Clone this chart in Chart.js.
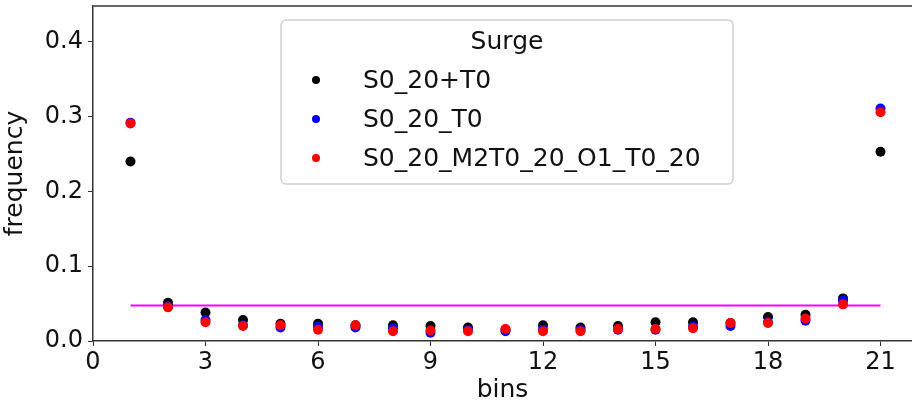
<!DOCTYPE html>
<html>
<head>
<meta charset="utf-8">
<script src="https://cdn.jsdelivr.net/npm/chart.js@4/dist/chart.umd.min.js"></script>
<style>
  html, body { margin: 0; padding: 0; background: #fff; }
  #wrap { width: 912px; height: 405px; }
</style>
</head>
<body>
<div id="wrap"><canvas id="chart" width="912" height="405"></canvas></div>
<script>
// bins 1..21
const bins = [1, 2, 3, 4, 5, 6, 7, 8, 9, 10, 11, 12, 13, 14, 15, 16, 17, 18, 19, 20, 21];

// frequencies
const plusT0 = [0.240, 0.051, 0.038, 0.028, 0.023, 0.023, 0.021, 0.021, 0.020, 0.018, 0.015,
                0.021, 0.018, 0.020, 0.025, 0.025, 0.024, 0.032, 0.035, 0.057, 0.253];
const underT0 = [0.292, 0.046, 0.028, 0.021, 0.018, 0.019, 0.018, 0.017, 0.011, 0.015, 0.013,
                 0.015, 0.015, 0.015, 0.015, 0.019, 0.020, 0.025, 0.027, 0.054, 0.311];
const m2o1 = [0.291, 0.045, 0.025, 0.020, 0.021, 0.015, 0.021, 0.013, 0.014, 0.013, 0.016,
              0.013, 0.013, 0.016, 0.016, 0.017, 0.024, 0.024, 0.030, 0.049, 0.306];

// uniform reference line 1/21
const uniformX = [1, 21];
const uniformY = [1 / 21, 1 / 21];

const seriesNames = ['S0_20+T0', 'S0_20_T0', 'S0_20_M2T0_20_O1_T0_20'];
const seriesColors = ['#000000', '#0000ff', '#ff0000'];
const legendTitle = 'Surge';

const font = 'DejaVu Sans';

function pts(xs, ys) {
    return xs.map((x, i) => ({ x: x, y: ys[i] }));
}

function scatterSet(i, ys, order) {
    return {
        type: 'scatter',
        label: seriesNames[i],
        data: pts(bins, ys),
        backgroundColor: seriesColors[i],
        borderColor: seriesColors[i],
        pointRadius: 5,
        pointHoverRadius: 5,
        borderWidth: 0,
        order: order,
        inLegend: true
    };
}

// no extra room for half tick labels, chart area follows layout padding only
function noPad(s) {
    s.paddingTop = 0;
    s.paddingBottom = 0;
    s.paddingLeft = 0;
    s.paddingRight = 0;
}

// legend drawn by hand inside the plot, like the matplotlib one
const boxLegend = {
    id: 'boxLegend',
    afterDraw(chart) {
        const c = chart.ctx;
        const x0 = 281, y0 = 20, w = 452, h = 164;
        c.save();
        c.fillStyle = 'rgba(255,255,255,0.85)';
        c.strokeStyle = '#d0d0d0';
        c.lineWidth = 1.5;
        c.beginPath();
        c.roundRect(x0, y0, w, h, 5);
        c.fill();
        c.stroke();
        c.fillStyle = '#111';
        c.font = '25px "' + font + '"';
        c.textBaseline = 'middle';
        c.textAlign = 'center';
        c.fillText(legendTitle, x0 + w / 2, 42);
        c.textAlign = 'left';
        const sets = chart.data.datasets.filter(d => d.inLegend);
        sets.forEach((d, i) => {
            const y = 80 + i * 39;
            c.fillStyle = d.backgroundColor;
            c.beginPath();
            c.arc(316, y, 4, 0, Math.PI * 2);
            c.fill();
            c.fillStyle = '#111';
            c.fillText(d.label, 363, y + 1);
        });
        c.restore();
    }
};

// top spine
const topSpine = {
    id: 'topSpine',
    afterDraw(chart) {
        const a = chart.chartArea;
        const c = chart.ctx;
        c.save();
        c.strokeStyle = '#666';
        c.lineWidth = 2;
        c.beginPath();
        c.moveTo(a.left, a.top);
        c.lineTo(a.right, a.top);
        c.stroke();
        c.restore();
    }
};

const ctx = document.getElementById('chart');
const chart = new Chart(ctx, {
    type: 'scatter',
    data: {
        datasets: [
            scatterSet(0, plusT0, 3),
            scatterSet(1, underT0, 2),
            scatterSet(2, m2o1, 1),
            {
                type: 'line',
                label: 'uniform',
                data: pts(uniformX, uniformY),
                borderColor: '#ff00ff',
                backgroundColor: '#ff00ff',
                borderWidth: 2,
                pointRadius: 0,
                fill: false,
                order: 4
            }
        ]
    },
    options: {
        responsive: false,
        animation: false,
        layout: { autoPadding: false, padding: { top: 6, right: 0, left: 0, bottom: 0 } },
        plugins: {
            legend: { display: false },
            tooltip: { enabled: false }
        },
        scales: {
            x: {
                type: 'linear',
                min: 0,
                max: 21.84,
                afterFit(s) { s.height = 64; noPad(s); },
                ticks: {
                    stepSize: 3,
                    includeBounds: false,
                    color: '#111',
                    font: { family: font, size: 24 },
                    padding: 2,
                    maxRotation: 0
                },
                grid: {
                    drawOnChartArea: false,
                    drawTicks: true,
                    tickLength: 5,
                    color: '#333'
                },
                border: { display: true, color: '#333', width: 1.5 },
                title: {
                    display: true,
                    text: 'bins',
                    color: '#111',
                    font: { family: font, size: 25 },
                    padding: { top: 0, bottom: 0 }
                }
            },
            y: {
                min: 0,
                max: 0.448,
                afterFit(s) { s.width = 93; noPad(s); },
                ticks: {
                    stepSize: 0.1,
                    includeBounds: false,
                    color: '#111',
                    font: { family: font, size: 24 },
                    padding: 5,
                    callback: v => v.toFixed(1)
                },
                grid: {
                    drawOnChartArea: false,
                    drawTicks: true,
                    tickLength: 5,
                    color: '#333'
                },
                border: { display: true, color: '#333', width: 1.5 },
                title: {
                    display: true,
                    text: 'frequency',
                    color: '#111',
                    font: { family: font, size: 25 },
                    padding: { top: 0, bottom: 4 }
                }
            }
        }
    },
    plugins: [boxLegend, topSpine]
});
</script>
</body>
</html>
